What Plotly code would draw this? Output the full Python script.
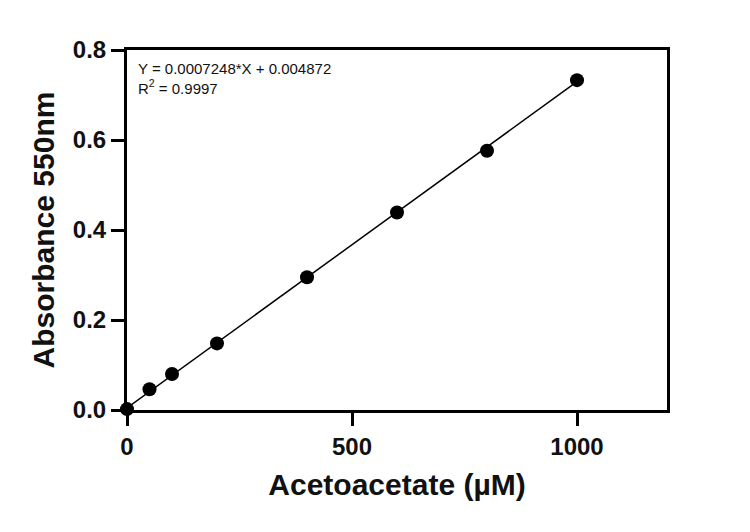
import plotly.graph_objects as go

# standard curve readings
conc_um = [0, 50, 100, 200, 400, 600, 800, 1000]
absorbance = [0.002, 0.046, 0.080, 0.148, 0.295, 0.439, 0.576, 0.733]

# linear fit as shown on the chart
slope = 0.0007248
intercept = 0.004872
r_squared = 0.9997
fit_x = [0, 1000]

x_ticks = [0, 500, 1000]
y_ticks = [0.0, 0.2, 0.4, 0.6, 0.8]

font_family = "Arial, Liberation Sans, sans-serif"
ink = "#111111"

fig = go.Figure()

fig.add_trace(
    go.Scatter(
        x=fit_x,
        y=[slope * x + intercept for x in fit_x],
        mode="lines",
        line=dict(color="black", width=1.5),
        cliponaxis=False,
        hoverinfo="skip",
    )
)

fig.add_trace(
    go.Scatter(
        x=conc_um,
        y=absorbance,
        mode="markers",
        marker=dict(color="black", size=14),
        cliponaxis=False,
    )
)

fig.add_annotation(
    x=0, y=1, xref="paper", yref="paper",
    xanchor="left", yanchor="top",
    xshift=9, yshift=-8,
    align="left",
    showarrow=False,
    text=f"Y = {slope}*X + {intercept}<br>R<sup>2</sup> = {r_squared}",
    font=dict(family=font_family, size=15, color=ink),
)

axis_style = dict(
    showgrid=False,
    zeroline=False,
    showline=True,
    linecolor="black",
    linewidth=3,
    mirror=True,
    ticks="outside",
    ticklen=13,
    tickwidth=3,
    tickcolor="black",
    tickfont=dict(family=font_family, size=24, color=ink, weight="bold"),
)

fig.update_xaxes(
    range=[0, 1200],
    tickvals=x_ticks,
    ticktext=[str(t) for t in x_ticks],
    title=dict(
        text="<b>Acetoacetate (µM)</b>",
        font=dict(family=font_family, size=30, color=ink),
        standoff=16,
    ),
    **axis_style,
)
fig.update_yaxes(
    range=[0, 0.8],
    tickvals=y_ticks,
    ticktext=[f"{t:.1f}" for t in y_ticks],
    title=dict(
        text="<b>Absorbance 550nm</b>",
        font=dict(family=font_family, size=30, color=ink),
        standoff=10,
    ),
    **axis_style,
)

# the page body adds an 8px offset, so margins are shifted to compensate
fig.update_layout(
    width=750,
    height=532,
    margin=dict(l=119, r=91, t=42, b=130),
    plot_bgcolor="white",
    paper_bgcolor="white",
    showlegend=False,
)

fig.write_html("out.html")
